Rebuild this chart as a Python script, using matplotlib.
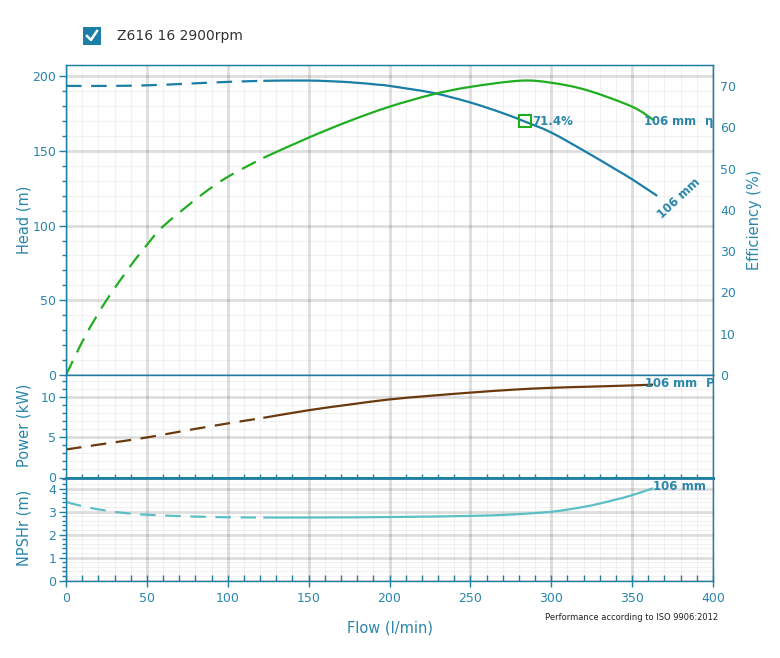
import matplotlib
matplotlib.use('Agg')
import matplotlib.pyplot as plt
from matplotlib.patches import Rectangle, PathPatch
from matplotlib.lines import Line2D
from matplotlib.path import Path
from matplotlib.ticker import MultipleLocator

# (flow in l/min)
head_flow = [0, 25, 50, 75, 100, 122, 150, 175, 194, 200, 227, 250, 270, 283.5, 300, 322, 340, 350, 365.5]
head_m = [193.5, 193.5, 193.9, 195.0, 196.2, 196.9, 197.1, 196.0, 194.2, 193.5, 188.8, 182.4, 175.3, 169.7,
          162.3, 149.0, 137.5, 131.0, 119.9]

eff_flow = [0, 12, 25, 40, 50, 60, 83, 100, 122, 150, 175, 200, 227, 250, 281, 300, 322, 350, 363.5]
eff_pct = [0, 9.5, 18.1, 26.5, 31.5, 36.0, 43.4, 48.0, 52.6, 57.5, 61.5, 65.0, 68.0, 69.8, 71.3, 70.8, 69.0,
           65.0, 61.7]

power_flow = [0, 25, 50, 75, 100, 122, 150, 175, 200, 225, 250, 275, 300, 325, 350, 363]
power_kw = [3.5, 4.25, 5.0, 5.9, 6.75, 7.45, 8.4, 9.1, 9.75, 10.2, 10.6, 10.95, 11.2, 11.35, 11.5, 11.6]

npsh_flow = [0, 12, 25, 37, 50, 75, 100, 122, 150, 200, 250, 275, 300, 320, 330, 340, 350, 363]
npsh_m = [3.42, 3.2, 3.04, 2.93, 2.86, 2.79, 2.75, 2.74, 2.74, 2.76, 2.81, 2.87, 2.99, 3.2, 3.35, 3.52, 3.71,
          4.01]

dash_end = 122          # curves are dashed below this flow
bep_flow, bep_head, bep_eff = 283.5, 169.7, 71.4

SPINE = '#1f7fa3'
TXT = '#2a86aa'
HEAD_C = '#1a7ea6'
EFF_C = '#1fae1f'
POW_C = '#6b3a0c'
NPSH_C = '#5cbfc6'
TICK_FS = 9

W, H = 780, 658
fig = plt.figure(figsize=(W / 100, H / 100), dpi=100)


def px_axes(top, bottom):
    return fig.add_axes([66 / W, (H - bottom) / H, 647 / W, (bottom - top) / H])


def style(ax, ymaj, ymin):
    ax.set_xlim(0, 400)
    ax.xaxis.set_major_locator(MultipleLocator(50))
    ax.xaxis.set_minor_locator(MultipleLocator(10))
    ax.yaxis.set_major_locator(MultipleLocator(ymaj))
    ax.yaxis.set_minor_locator(MultipleLocator(ymin))
    ax.grid(which='major', color='black', alpha=0.13, lw=2)
    ax.grid(which='minor', color='black', alpha=0.05, lw=0.8)
    ax.set_axisbelow(True)
    for s in ax.spines.values():
        s.set_color(SPINE)
        s.set_linewidth(1)
    ax.tick_params(axis='y', which='major', colors=SPINE, labelcolor=TXT, labelsize=TICK_FS, length=5,
                   width=1, pad=2)
    ax.tick_params(axis='y', which='minor', colors=SPINE, length=3, width=1)
    ax.tick_params(axis='x', which='both', colors=SPINE, labelcolor=TXT, labelsize=TICK_FS, width=1)


def smooth(ax, xs, ys, **kw):
    # draw a smooth curve through the read points (Catmull-Rom as cubic Bezier)
    pts = list(zip(xs, ys))
    verts, codes = [pts[0]], [Path.MOVETO]
    n = len(pts)
    for i in range(n - 1):
        p0 = pts[max(i - 1, 0)]
        p1, p2 = pts[i], pts[i + 1]
        p3 = pts[min(i + 2, n - 1)]
        c1 = (p1[0] + (p2[0] - p0[0]) / 6, p1[1] + (p2[1] - p0[1]) / 6)
        c2 = (p2[0] - (p3[0] - p1[0]) / 6, p2[1] - (p3[1] - p1[1]) / 6)
        verts += [c1, c2, p2]
        codes += [Path.CURVE4] * 3
    ax.add_patch(PathPatch(Path(verts, codes), fill=False, **kw))


def split_plot(ax, xs, ys, color):
    i = xs.index(dash_end)
    smooth(ax, xs[:i + 1], ys[:i + 1], edgecolor=color, lw=1.6, linestyle=(0, (7, 4.3)))
    smooth(ax, xs[i:], ys[i:], edgecolor=color, lw=1.6, capstyle='butt')


# --- head / efficiency panel ---
ax1 = px_axes(65, 375)
style(ax1, 50, 10)
ax1.set_ylim(0, 207.5)
ax1.tick_params(axis='x', which='both', bottom=False, labelbottom=False)
split_plot(ax1, head_flow, head_m, HEAD_C)
ax1.plot([bep_flow], [bep_head], 's', ms=8.5, mfc='none', mec=EFF_C, mew=1.5, zorder=5)
ax1.text(bep_flow + 5, bep_head, '71.4%', color=TXT, fontsize=8.5, fontweight='bold', va='center')
ax1.text(379, 118.5, '106 mm', color=TXT, fontsize=8.5, fontweight='bold', rotation=43,
         ha='center', va='center', rotation_mode='anchor', clip_on=False)

ax1r = ax1.twinx()
ax1r.set_ylim(0, 75.1)
ax1r.yaxis.set_major_locator(MultipleLocator(10))
ax1r.tick_params(axis='y', length=0, colors=SPINE, labelcolor=TXT, labelsize=TICK_FS, pad=5)
for s in ax1r.spines.values():
    s.set_color(SPINE)
split_plot(ax1r, eff_flow, eff_pct, EFF_C)
ax1r.text(356.5, 61.3, '106 mm  η$_\\mathregular{P}$', color=TXT, fontsize=8.5, fontweight='bold',
          va='center', clip_on=True)

# --- power panel ---
ax2 = px_axes(375, 477.5)
style(ax2, 5, 1)
ax2.set_ylim(0, 12.8)
ax2.tick_params(axis='x', which='major', bottom=False, labelbottom=False)
ax2.tick_params(axis='x', which='minor', direction='in', length=3)
ax2.spines['bottom'].set_linewidth(2)
split_plot(ax2, power_flow, power_kw, POW_C)
ax2.text(357.5, 11.6, '106 mm  P$_\\mathregular{2}$', color=TXT, fontsize=8.5, fontweight='bold',
         va='center', clip_on=True, zorder=6)

# --- NPSHr panel ---
ax3 = px_axes(477.5, 580.5)
style(ax3, 1, 0.2)
ax3.set_ylim(0, 4.48)
ax3.spines['top'].set_linewidth(2)
ax3.tick_params(axis='x', which='major', direction='inout', length=9)
ax3.tick_params(axis='x', which='minor', direction='in', length=4)
split_plot(ax3, npsh_flow, npsh_m, NPSH_C)
ax3.text(363, 4.1, '106 mm', color=TXT, fontsize=8.5, fontweight='bold', va='center')

# axis labels
fig.text(24 / W, 1 - 220 / H, 'Head (m)', rotation=90, color=TXT, fontsize=10.5, ha='center', va='center')
fig.text(24 / W, 1 - 425 / H, 'Power (kW)', rotation=90, color=TXT, fontsize=10.5, ha='center', va='center')
fig.text(24 / W, 1 - 528 / H, 'NPSHr (m)', rotation=90, color=TXT, fontsize=10.5, ha='center', va='center')
fig.text(755 / W, 1 - 220 / H, 'Efficiency (%)', rotation=90, color=TXT, fontsize=10.5, ha='center',
         va='center')
fig.text(390 / W, 1 - 628 / H, 'Flow (l/min)', color=TXT, fontsize=10.5, ha='center', va='center')
fig.text(718 / W, 1 - 618 / H, 'Performance according to ISO 9906:2012', color='#222222', fontsize=6,
         ha='right', va='center')

# legend checkbox
fig.add_artist(Rectangle((83 / W, 1 - 45 / H), 18 / W, 18 / H, transform=fig.transFigure,
                         facecolor='#1a7ea6', edgecolor='none'))
fig.add_artist(Line2D([87 / W, 91 / W, 97 / W], [1 - 36 / H, 1 - 40 / H, 1 - 31 / H],
                      transform=fig.transFigure, color='white', lw=1.8))
fig.text(117 / W, 1 - 36 / H, 'Z616 16 2900rpm', color='#333333', fontsize=10, va='center')

fig.savefig('out.png', dpi=100)
